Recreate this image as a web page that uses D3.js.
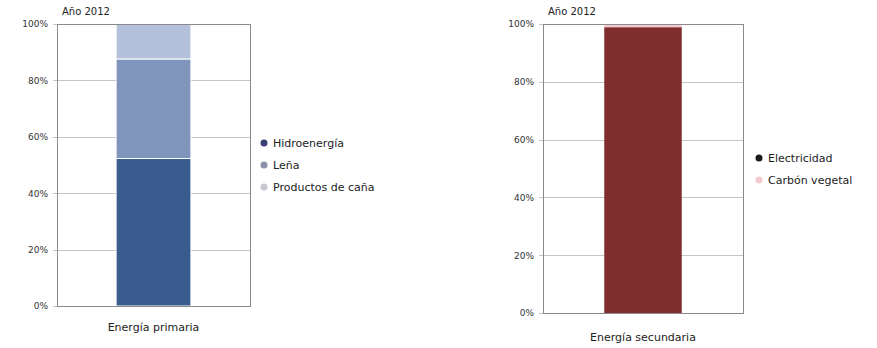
<!DOCTYPE html>
<meta charset="utf-8">
<script src="https://cdn.jsdelivr.net/npm/d3@7"></script>
<style>
body { margin: 0; background: #fff; }
svg text { font-family: "DejaVu Sans", Verdana, sans-serif; fill: #222; }
.tick text { font-size: 9px; fill: #333; }
.grid line { stroke: #c4c4c4; stroke-width: 1; shape-rendering: crispEdges; }
.frame { fill: none; stroke: #8a8a8a; stroke-width: 1; shape-rendering: crispEdges; }
</style>
<body>
<div id="chart"></div>
<script>
// ---------------- data ----------------
const year = "Año 2012";
const tickLabels = ["0%", "20%", "40%", "60%", "80%", "100%"];

// primary energy
const primCategory = "Energía primaria";
const primSeries = ["Hidroenergía", "Leña", "Productos de caña"];
const primValues = [52.3, 35.3, 12.4];
const primColors = ["#3a5b8e", "#7f95bc", "#b5c1db"];
const primLegendColors = ["#3b3f72", "#8e90aa", "#c6c8d8"];

// secondary energy
const secCategory = "Energía secundaria";
const secSeries = ["Electricidad", "Carbón vegetal"];
const secValues = [98.9, 1.1];
const secColors = ["#7f2d2d", "#f2c9cd"];
const secLegendColors = ["#1f1a1a", "#f2c9cd"];

const svg = d3.select("#chart").append("svg")
    .attr("width", 877).attr("height", 348);

function drawPanel(cfg) {
    const g = svg.append("g");
    const x = d3.scaleBand().domain([cfg.category])
        .range([cfg.left, cfg.right]).paddingInner(0).paddingOuter(0.79);
    const y = d3.scaleLinear().domain([0, 100]).range([cfg.bottom, cfg.top]);

    // gridlines
    g.append("g").attr("class", "grid")
      .selectAll("line").data(d3.range(0, 101, 20)).enter().append("line")
      .attr("x1", cfg.left - 4).attr("x2", cfg.right)
      .attr("y1", d => Math.round(y(d)) + 0.5).attr("y2", d => Math.round(y(d)) + 0.5);

    // y axis labels
    const yaxis = d3.axisLeft(y).tickValues(d3.range(0, 101, 20))
        .tickFormat((d, i) => tickLabels[i]).tickSize(0).tickPadding(9);
    g.append("g").attr("transform", "translate(" + cfg.left + ",0)")
      .call(yaxis).call(a => a.select(".domain").remove());

    // stacked bar
    let acc = 0;
    const stack = cfg.values.map((v, i) => {
        const d = { name: cfg.series[i], y0: acc, y1: acc + v, color: cfg.colors[i] };
        acc += v;
        return d;
    });
    g.selectAll("rect.seg").data(stack).enter().append("rect")
      .attr("class", "seg")
      .attr("x", x(cfg.category))
      .attr("width", x.bandwidth())
      .attr("y", d => y(d.y1))
      .attr("height", d => y(d.y0) - y(d.y1))
      .attr("fill", d => d.color)
      .attr("stroke", "#fff").attr("stroke-width", cfg.segStroke);

    // frame
    g.append("rect").attr("class", "frame")
      .attr("x", cfg.left + 0.5).attr("y", cfg.top + 0.5)
      .attr("width", cfg.right - cfg.left).attr("height", cfg.bottom - cfg.top);

    // title
    g.append("text").attr("x", cfg.left + 5).attr("y", cfg.top - 9)
      .style("font-size", "10px").text(year);

    // x label
    g.append("text").attr("x", x(cfg.category) + x.bandwidth() / 2)
      .attr("y", cfg.bottom + cfg.xlabOffset).attr("text-anchor", "middle")
      .style("font-size", "11px").text(cfg.category);

    // legend
    const leg = g.selectAll("g.leg").data(cfg.series).enter().append("g")
      .attr("transform", (d, i) => "translate(" + cfg.legX + "," + (cfg.legY + i * 22) + ")");
    leg.append("circle").attr("r", 3.5).attr("fill", (d, i) => cfg.legendColors[i]);
    leg.append("text").attr("x", 9).attr("dy", "0.35em")
      .style("font-size", "11px").text(d => d);
}

drawPanel({
    category: primCategory, series: primSeries, values: primValues,
    colors: primColors, legendColors: primLegendColors,
    left: 57, right: 250, top: 24, bottom: 306, xlabOffset: 25,
    legX: 264, legY: 143, segStroke: 1
});

drawPanel({
    category: secCategory, series: secSeries, values: secValues,
    colors: secColors, legendColors: secLegendColors,
    left: 543, right: 743, top: 24, bottom: 313, xlabOffset: 28,
    legX: 759, legY: 158, segStroke: 0
});
</script>
</body>
